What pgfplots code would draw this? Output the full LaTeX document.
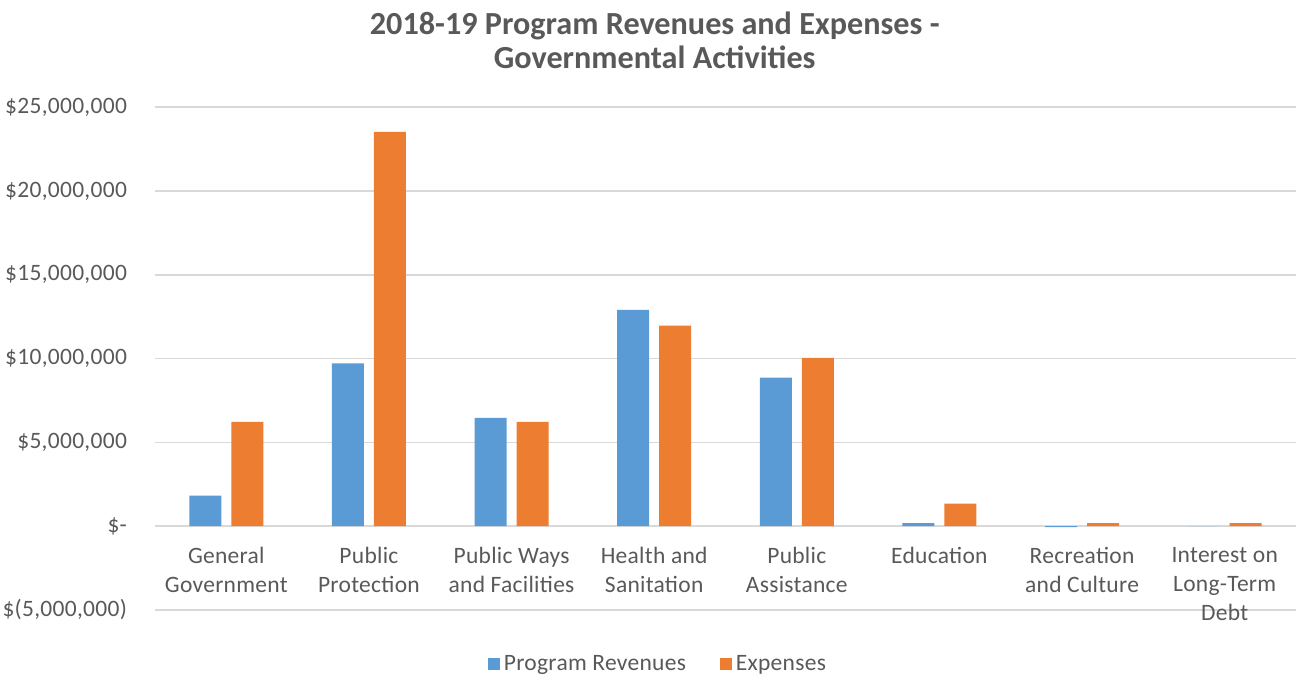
\documentclass[border=0pt]{standalone}
\usepackage{pgfplots}
\pgfplotsset{compat=1.18}
\usepackage{fontspec}
\setmainfont{Carlito}
\definecolor{cblue}{HTML}{5B9BD5}
\definecolor{corange}{HTML}{ED7D31}
\definecolor{ctext}{HTML}{595959}
\definecolor{cgrid}{HTML}{D9D9D9}
\begin{document}
\begin{tikzpicture}
\path[use as bounding box] (-77.5pt,-34pt) rectangle (570.5pt,305pt);
\begin{axis}[
  at={(0pt,0pt)}, anchor=south west,
  width=570.5pt, height=251.4pt, scale only axis,
  xmin=-0.5, xmax=7.5, ymin=-5000000, ymax=25000000,
  clip=false,
  ybar=5pt, bar width=16pt,
  ytick={-5000000,0,5000000,10000000,15000000,20000000,25000000},
  yticklabels={{\$(5,000,000)},{\$-},{\$5,000,000},{\$10,000,000},{\$15,000,000},{\$20,000,000},{\$25,000,000}},
  scaled y ticks=false,
  xtick={0,1,2,3,4,5,6,7},
  xticklabels={{General\\Government},{Public\\Protection},{Public Ways\\and Facilities},{Health and\\Sanitation},{Public\\Assistance},{Education},{Recreation\\and Culture},{Interest on\\Long-Term\\Debt}},
  ymajorgrids, grid style={cgrid, line width=0.8pt},
  axis line style={draw=none}, major tick length=0pt,
  tick label style={font=\fontsize{11.75}{14.5}\selectfont\addfontfeature{LetterSpace=1.2}, text=ctext},
  yticklabel style={xshift=-10.5pt},
  xticklabel style={align=center, yshift=35pt},
  legend style={at={(0.4417,0)}, anchor=center, yshift=-27pt, draw=none,
    font=\fontsize{11.75}{14.5}\selectfont\addfontfeature{LetterSpace=1.2}, text=ctext,
    /tikz/every even column/.append style={column sep=15pt}},
  legend columns=2,
  legend cell align=left,
  legend image code/.code={\fill[#1] (0pt,-3pt) rectangle (6pt,3pt);},
]
\addplot[fill=cblue, draw=none] coordinates {(0,1830000) (1,9710000) (2,6470000) (3,12910000) (4,8870000) (5,180000) (6,-60000) (7,0)};
\addplot[fill=corange, draw=none] coordinates {(0,6230000) (1,23520000) (2,6230000) (3,11960000) (4,10050000) (5,1350000) (6,180000) (7,180000)};
\legend{Program Revenues, Expenses}
\node[font=\bfseries\fontsize{16.1}{17}\selectfont, text=ctext, align=center] at (rel axis cs:0.438,1) [yshift=33.5pt] {2018-19 Program Revenues and Expenses -\\Governmental Activities};
\end{axis}
\end{tikzpicture}
\end{document}
